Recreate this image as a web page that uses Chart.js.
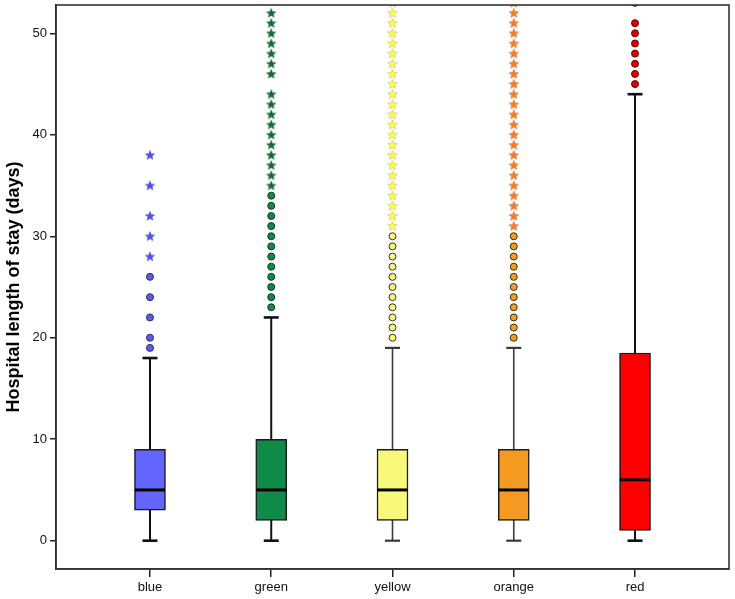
<!DOCTYPE html>
<html>
<head>
<meta charset="utf-8">
<script src="https://cdn.jsdelivr.net/npm/chart.js@4.4.1/dist/chart.umd.min.js"></script>
<style>
  html, body { margin: 0; padding: 0; background: #fff; }
  #wrap { width: 735px; height: 599px; }
</style>
</head>
<body>
<div id="wrap"><canvas id="boxChart" width="735" height="599"></canvas></div>
<script>
const categories = ["blue", "green", "yellow", "orange", "red"];
const xPositions = [1, 2, 3, 4, 5];
const yTicks = [0, 10, 20, 30, 40, 50];

const whiskerLow = [0, 0, 0, 0, 0];
const q1 = [3, 2, 2, 2, 1];
const medians = [5, 5, 5, 5, 6];
const q3 = [9, 10, 9, 9, 18.5];
const whiskerHigh = [18, 22, 19, 19, 44];

// circles (outliers)
const outliers = [
  [19, 20, 22, 24, 26],
  [23, 24, 25, 26, 27, 28, 29, 30, 31, 32, 33, 34],
  [20, 21, 22, 23, 24, 25, 26, 27, 28, 29, 30],
  [20, 21, 22, 23, 24, 25, 26, 27, 28, 29, 30],
  [45, 46, 47, 48, 49, 50, 51, 53]
];
// stars (extremes)
const extremes = [
  [28, 30, 32, 35, 38],
  [35, 36, 37, 38, 39, 40, 41, 42, 43, 44, 46, 47, 48, 49, 50, 51, 52],
  [31, 32, 33, 34, 35, 36, 37, 38, 39, 40, 41, 42, 43, 44, 45, 46, 47, 48, 49, 50, 51, 52, 53],
  [31, 32, 33, 34, 35, 36, 37, 38, 39, 40, 41, 42, 43, 44, 45, 46, 47, 48, 49, 50, 51, 52, 53],
  []
];

const boxColors = ["#6464ff", "#0f8a48", "#f8f87a", "#f59a20", "#ff0000"];
const circleColors = ["#5c5ce8", "#13884a", "#f6f67a", "#eea024", "#dd0000"];
const circleBorders = ["#2a2a6a", "#0b3a20", "#333333", "#3a2a10", "#600000"];
const starColors = ["#4f4fff", "#0d6e32", "#ffff3c", "#ff7a1e", "#ff0000"];
const whiskerColors = ["#111", "#111", "#3a3a3a", "#3a3a3a", "#111"];
const whiskerWidths = [2, 2, 1.6, 1.6, 2];

function makeStar(color) {
  const c = document.createElement("canvas");
  c.width = 12; c.height = 12;
  const g = c.getContext("2d");
  g.beginPath();
  for (let i = 0; i < 10; i++) {
    const r = i % 2 === 0 ? 5.2 : 2.3;
    const a = -Math.PI / 2 + i * Math.PI / 5;
    const px = 6 + r * Math.cos(a), py = 6.3 + r * Math.sin(a);
    if (i === 0) g.moveTo(px, py); else g.lineTo(px, py);
  }
  g.closePath();
  g.fillStyle = color;
  g.fill();
  g.lineWidth = 0.6;
  g.strokeStyle = "rgba(0,0,0,0.25)";
  g.stroke();
  return c;
}

const datasets = [];

// whiskers, behind the boxes
categories.forEach((cat, i) => {
  datasets.push({
    type: "line",
    data: [{ x: xPositions[i], y: whiskerLow[i] }, { x: xPositions[i], y: whiskerHigh[i] }],
    borderColor: whiskerColors[i],
    borderWidth: whiskerWidths[i],
    pointRadius: 0,
    order: 5
  });
  // caps
  datasets.push({
    type: "line",
    showLine: false,
    data: [{ x: xPositions[i], y: whiskerLow[i] }, { x: xPositions[i], y: whiskerHigh[i] }],
    pointStyle: "line",
    pointRadius: 7.5,
    pointBorderWidth: whiskerWidths[i] + 0.6,
    pointBorderColor: whiskerColors[i],
    order: 4
  });
});

// boxes
datasets.push({
  type: "bar",
  data: categories.map((c, i) => ({ x: xPositions[i], y: [q1[i], q3[i]] })),
  backgroundColor: boxColors,
  borderColor: "#1a1a1a",
  borderWidth: 1.5,
  borderSkipped: false,
  barThickness: 31,
  order: 3
});

// medians
datasets.push({
  type: "line",
  showLine: false,
  data: categories.map((c, i) => ({ x: xPositions[i], y: medians[i] })),
  pointStyle: "line",
  pointRadius: 15,
  pointBorderWidth: 3,
  pointBorderColor: "#000",
  order: 2
});

// outliers and extremes
categories.forEach((cat, i) => {
  datasets.push({
    type: "line",
    showLine: false,
    clip: 0,
    data: outliers[i].map(v => ({ x: xPositions[i], y: v })),
    pointStyle: "circle",
    pointRadius: 3.5,
    pointBackgroundColor: circleColors[i],
    pointBorderColor: circleBorders[i],
    pointBorderWidth: 1,
    order: 1
  });
  datasets.push({
    type: "line",
    showLine: false,
    clip: 0,
    data: extremes[i].map(v => ({ x: xPositions[i], y: v })),
    pointStyle: makeStar(starColors[i]),
    pointRadius: 5,
    order: 1
  });
});

const framePlugin = {
  id: "frame",
  afterDraw(chart) {
    const { ctx, chartArea: a } = chart;
    ctx.save();
    ctx.strokeStyle = "#333";
    ctx.lineWidth = 1.6;
    ctx.strokeRect(a.left, a.top, a.right - a.left, a.bottom - a.top);
    ctx.restore();
  }
};

new Chart(document.getElementById("boxChart"), {
  type: "bar",
  data: { datasets },
  plugins: [framePlugin],
  options: {
    responsive: false,
    animation: false,
    layout: { autoPadding: false, padding: { top: 5, right: 6, left: 0, bottom: 0 } },
    plugins: { legend: { display: false }, tooltip: { enabled: false } },
    scales: {
      x: {
        type: "linear",
        min: 0.225,
        max: 5.775,
        offset: false,
        afterBuildTicks: (scale) => { scale.ticks = xPositions.map(v => ({ value: v })); },
        afterFit: (scale) => {
          scale.height = 30;
          scale.paddingLeft = 0;
          scale.paddingRight = 0;
        },
        ticks: {
          callback: (value, index) => categories[index],
          color: "#111",
          font: { family: "'Liberation Sans', Arial, sans-serif", size: 13 },
          padding: 3,
          maxRotation: 0,
          autoSkip: false
        },
        grid: { display: true, drawOnChartArea: false, drawTicks: true, tickLength: 8, color: "#222", lineWidth: 1.5, offset: false },
        border: { display: true, color: "#222", width: 1.5 }
      },
      y: {
        type: "linear",
        min: -2.79,
        max: 52.79,
        afterBuildTicks: (scale) => { scale.ticks = yTicks.map(v => ({ value: v })); },
        afterFit: (scale) => {
          scale.width = 56;
          scale.paddingTop = 0;
          scale.paddingBottom = 0;
        },
        ticks: {
          color: "#111",
          font: { family: "'Liberation Sans', Arial, sans-serif", size: 13 },
          padding: 3
        },
        grid: { display: true, drawOnChartArea: false, drawTicks: true, tickLength: 6, color: "#222", lineWidth: 1.5 },
        border: { display: true, color: "#222", width: 1.5 },
        title: {
          display: true,
          text: "Hospital length of stay (days)",
          color: "#000",
          font: { family: "'Liberation Sans', Arial, sans-serif", size: 18, weight: "bold" },
          padding: { top: 3, bottom: 0 }
        }
      }
    }
  }
});
</script>
</body>
</html>
